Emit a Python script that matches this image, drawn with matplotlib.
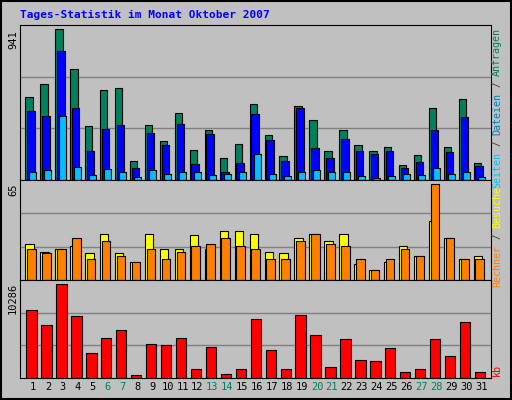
import matplotlib.pyplot as plt
import numpy as np

days = np.arange(1, 32)
anfragen = [519, 596, 941, 692, 334, 564, 571, 117, 341, 245, 417, 187, 309, 136, 226, 475,
            283, 149, 462, 373, 181, 309, 219, 181, 207, 92, 155, 449, 207, 507, 104]
dateien = [430, 398, 807, 449, 181, 321, 341, 72, 296, 219, 347, 98, 290, 53, 104, 411,
           251, 117, 449, 200, 136, 258, 181, 162, 181, 72, 111, 309, 175, 392, 85]
seiten = [47, 60, 398, 79, 34, 66, 47, 21, 60, 40, 53, 53, 34, 40, 53, 162,
          40, 28, 47, 60, 47, 53, 28, 15, 28, 40, 34, 72, 40, 47, 21]
besuche = [24, 19, 21, 23, 18, 31, 18, 12, 31, 21, 21, 30, 21, 33, 33, 31,
           19, 18, 28, 31, 26, 31, 11, 7, 12, 23, 16, 40, 28, 14, 16]
rechner = [21, 18, 21, 28, 14, 26, 16, 12, 21, 14, 19, 23, 24, 28, 23, 21,
           14, 14, 26, 31, 24, 23, 14, 7, 14, 21, 16, 65, 28, 14, 14]
kb = [7358, 5781, 10286, 6795, 2740, 4317, 5218, 375, 3754, 3641, 4317, 939, 3416, 488, 939, 6457,
      3078, 939, 6907, 4655, 1164, 4205, 1952, 1839, 3304, 601, 939, 4205, 2403, 6119, 601]
weekend = [6, 7, 13, 14, 20, 21, 27, 28]

BG = '#c0c0c0'
GREEN = '#00805c'
mono = 'DejaVu Sans Mono'

fig = plt.figure(figsize=(5.12, 4), dpi=100, facecolor=BG)
fig.patches.append(plt.Rectangle((0.002, 0.003), 0.996, 0.994, transform=fig.transFigure,
                                 fill=False, edgecolor='black', lw=1.5))

def panel(rect, ymax):
    ax = fig.add_axes(rect, facecolor=BG)
    ax.set_xlim(0.13, 31.64)
    ax.set_ylim(0, ymax)
    for f in (1 / 3, 2 / 3):
        ax.axhline(ymax * f, color='#808080', lw=1, zorder=0)
    ax.set_xticks([])
    ax.set_yticks([])
    for s in ax.spines.values():
        s.set_color('black')
    return ax

ekw = dict(edgecolor='black', linewidth=0.8, align='edge')

# Anfragen / Dateien / Seiten
ax1 = panel([20 / 512, 1 - 180 / 400, 471 / 512, 155 / 400], 967)
ax1.bar(days - 0.51, anfragen, 0.49, color=GREEN, **ekw)
ax1.bar(days - 0.40, dateien, 0.51, color='#0000ff', **ekw)
ax1.bar(days - 0.24, seiten, 0.47, color='#00c0ff', **ekw)

# Besuche / Rechner
ax2 = panel([20 / 512, 1 - 280 / 400, 471 / 512, 100 / 400], 67.4)
ax2.bar(days - 0.51, besuche, 0.56, color='#ffff00', **ekw)
ax2.bar(days - 0.40, rechner, 0.58, color='#ff8000', **ekw)

# kb
ax3 = panel([20 / 512, 1 - 378 / 400, 471 / 512, 98 / 400], 10670)
ax3.bar(days - 0.44, kb, 0.69, color='#ff0000', **ekw)

fig.text(20 / 512, 1 - 15 / 400, 'Tages-Statistik im Monat Oktober 2007', color='#0000ff',
         family=mono, fontweight='bold', fontsize=8, va='center')

for txt, y in [('941', 30), ('65', 183), ('10286', 283)]:
    fig.text(13 / 512, 1 - y / 400, txt, rotation=90, family=mono, fontsize=7.5,
             va='top', ha='center')

for d in days:
    ax3.text(d, -0.045, str(d), transform=ax3.get_xaxis_transform(), ha='center', va='top',
             family=mono, fontsize=7.5, color=GREEN if d in weekend else 'black')

def side(parts, y0, step=5.9):
    # rotated multi-coloured label on the right, drawn top-down in pixels
    y = y0
    for t, c in parts:
        fig.text(497 / 512, 1 - y / 400, t, rotation=90, family=mono, fontsize=7.2,
                 color=c, va='top', ha='center')
        y += len(t) * step

side([('Anfragen', GREEN), (' / ', '#404040'), ('Dateien', '#0080c0'), (' / ', '#404040'),
      ('Seiten', '#00c0ff')], 28)
side([('Besuche', '#ffff00'), (' / ', '#404040'), ('Rechner', '#ff8000')], 186)
side([('kb', '#ff0000')], 364)

fig.savefig('out.png', dpi=100, facecolor=BG)
